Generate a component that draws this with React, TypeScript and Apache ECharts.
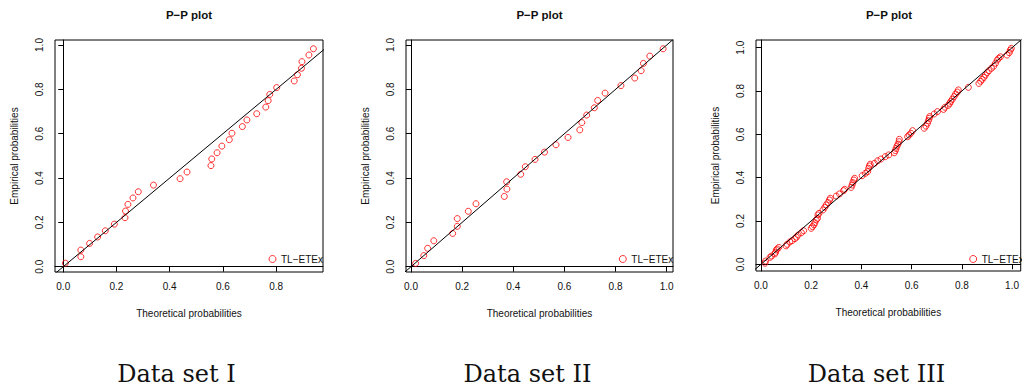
import React, { useEffect, useRef } from "react";
import * as echarts from "echarts";

// Data set I : theoretical (x) vs empirical (y) probabilities
const P1_X = [0.008, 0.066, 0.066, 0.099, 0.129, 0.158, 0.192, 0.232, 0.234, 0.243, 0.262, 0.282, 0.339, 0.439, 0.465, 0.555, 0.558, 0.578, 0.596, 0.624, 0.634, 0.673, 0.690, 0.727, 0.761, 0.770, 0.776, 0.802, 0.868, 0.880, 0.895, 0.897, 0.923, 0.940];
const P1_Y = [0.016, 0.045, 0.075, 0.105, 0.134, 0.162, 0.192, 0.221, 0.251, 0.281, 0.310, 0.338, 0.368, 0.397, 0.427, 0.456, 0.486, 0.514, 0.544, 0.573, 0.602, 0.632, 0.662, 0.690, 0.720, 0.749, 0.777, 0.808, 0.838, 0.866, 0.895, 0.925, 0.955, 0.983];

// Data set II
const P2_X = [0.018, 0.050, 0.065, 0.089, 0.163, 0.181, 0.181, 0.224, 0.254, 0.365, 0.375, 0.374, 0.429, 0.447, 0.485, 0.522, 0.567, 0.614, 0.660, 0.668, 0.687, 0.717, 0.730, 0.759, 0.821, 0.875, 0.900, 0.909, 0.934, 0.986];
const P2_Y = [0.015, 0.050, 0.083, 0.117, 0.150, 0.182, 0.217, 0.250, 0.284, 0.317, 0.350, 0.383, 0.417, 0.451, 0.484, 0.517, 0.550, 0.583, 0.617, 0.650, 0.684, 0.717, 0.750, 0.783, 0.817, 0.851, 0.884, 0.917, 0.950, 0.983];

// Data set III
const P3_X = [0.016, 0.018, 0.036, 0.042, 0.055, 0.058, 0.061, 0.065, 0.071, 0.100, 0.104, 0.115, 0.124, 0.135, 0.141, 0.148, 0.161, 0.170, 0.200, 0.205, 0.211, 0.215, 0.220, 0.225, 0.227, 0.231, 0.247, 0.254, 0.260, 0.267, 0.273, 0.276, 0.300, 0.313, 0.329, 0.333, 0.359, 0.363, 0.366, 0.370, 0.373, 0.403, 0.416, 0.425, 0.429, 0.432, 0.435, 0.452, 0.465, 0.478, 0.495, 0.509, 0.531, 0.535, 0.538, 0.542, 0.546, 0.550, 0.551, 0.584, 0.590, 0.597, 0.604, 0.650, 0.657, 0.663, 0.667, 0.670, 0.672, 0.690, 0.703, 0.727, 0.733, 0.746, 0.752, 0.756, 0.762, 0.769, 0.775, 0.782, 0.786, 0.826, 0.868, 0.875, 0.881, 0.888, 0.894, 0.901, 0.908, 0.918, 0.927, 0.934, 0.941, 0.947, 0.954, 0.980, 0.989, 0.993, 0.997];
const P3_Y = [0.005, 0.015, 0.032, 0.038, 0.048, 0.055, 0.066, 0.071, 0.078, 0.085, 0.092, 0.103, 0.109, 0.118, 0.125, 0.135, 0.146, 0.155, 0.166, 0.174, 0.182, 0.192, 0.205, 0.212, 0.228, 0.235, 0.251, 0.263, 0.274, 0.285, 0.297, 0.305, 0.315, 0.325, 0.340, 0.346, 0.355, 0.366, 0.377, 0.389, 0.397, 0.409, 0.420, 0.428, 0.443, 0.454, 0.462, 0.466, 0.478, 0.486, 0.497, 0.505, 0.515, 0.525, 0.535, 0.546, 0.555, 0.566, 0.577, 0.589, 0.597, 0.605, 0.617, 0.628, 0.638, 0.651, 0.663, 0.674, 0.682, 0.694, 0.705, 0.715, 0.725, 0.734, 0.743, 0.752, 0.762, 0.774, 0.786, 0.795, 0.805, 0.817, 0.835, 0.845, 0.854, 0.863, 0.874, 0.885, 0.894, 0.905, 0.915, 0.928, 0.943, 0.951, 0.958, 0.966, 0.977, 0.989, 0.997];

const TICKS_X1 = [0, 0.2, 0.4, 0.6, 0.8];
const TICKS_FULL = [0, 0.2, 0.4, 0.6, 0.8, 1.0];
const SERIES_NAME = "TL\u2212ETEx";
const TITLE = "P\u2212P plot";
const CAPTIONS = ["Data set I", "Data set II", "Data set III"];
const X_NAME = "Theoretical probabilities";
const Y_NAME = "Empirical probabilities";
const DIAG = [-0.2, 1.2];

const FONT = "'Liberation Sans', Arial, Helvetica, sans-serif";

const panels = [
  { xs: P1_X, ys: P1_Y, xTicks: TICKS_X1, grid: { left: 55, top: 40, width: 268, height: 232 }, xr: [-0.031, 0.976], yr: [-0.0239, 1.0226], legend: { left: 268.5, top: 254 }, titleX: 189, capX: 176.5 },
  { xs: P2_X, ys: P2_Y, xTicks: TICKS_FULL, grid: { left: 406, top: 40, width: 267, height: 232 }, xr: [-0.0196, 1.0246], yr: [-0.0239, 1.0226], legend: { left: 618.8, top: 254 }, titleX: 539.5, capX: 527.5 },
  { xs: P3_X, ys: P3_Y, xTicks: TICKS_FULL, grid: { left: 756, top: 40, width: 266, height: 231 }, xr: [-0.0198, 1.0345], yr: [-0.031, 1.0355], legend: { left: 969.2, top: 254 }, titleX: 889, capX: 876.5 },
];

export default function App() {
  const ref = useRef<HTMLDivElement>(null);
  useEffect(() => {
    if (!ref.current) return;
    const chart = echarts.init(ref.current, undefined, { renderer: "svg" });
    const fmt = (v: number) => Number(v).toFixed(1);
    const axisCommon = {
      type: "value" as const,
      splitLine: { show: false },
      axisLine: { show: true, lineStyle: { color: "#000", width: 1 } },
      nameLocation: "middle" as const,
      nameTextStyle: { fontSize: 10, color: "#111", fontFamily: FONT },
    };
    const option: any = {
      animation: false,
      backgroundColor: "#fff",
      textStyle: { fontFamily: FONT },
      title: [
        ...panels.map((p) => ({
          text: TITLE,
          left: p.titleX,
          top: 9,
          padding: 0,
          textAlign: "center",
          textStyle: { fontSize: 11.5, fontWeight: "bold", color: "#111", fontFamily: FONT },
        })),
        ...panels.map((p, i) => ({
          text: CAPTIONS[i],
          left: p.capX,
          top: 362,
          padding: 0,
          textAlign: "center",
          textStyle: { fontSize: 24, fontWeight: "normal", color: "#111", fontFamily: "'DejaVu Serif', serif" },
        })),
      ],
      legend: panels.map((p) => ({
        data: [SERIES_NAME],
        left: p.legend.left,
        top: p.legend.top,
        padding: 0,
        itemWidth: 7,
        itemHeight: 7,
        icon: "circle",
        selectedMode: false,
        itemStyle: { color: "transparent", borderColor: "#ff0000", borderWidth: 1 },
        textStyle: { fontSize: 10, color: "#111", fontFamily: FONT },
      })),
      grid: panels.map((p) => ({ ...p.grid, show: true, borderColor: "#000", borderWidth: 1, backgroundColor: "transparent" })),
      xAxis: panels.map((p, i) => ({
        ...axisCommon,
        gridIndex: i,
        min: p.xr[0],
        max: p.xr[1],
        name: X_NAME,
        nameGap: 36,
        axisTick: { show: true, length: 5, inside: false, customValues: p.xTicks, lineStyle: { color: "#000" } },
        axisLabel: { customValues: p.xTicks, formatter: fmt, fontSize: 10, color: "#111", margin: 9, fontFamily: FONT },
      })),
      yAxis: panels.map((p, i) => ({
        ...axisCommon,
        gridIndex: i,
        min: p.yr[0],
        max: p.yr[1],
        name: Y_NAME,
        nameGap: 36,
        axisTick: { show: true, length: 5, inside: false, customValues: TICKS_FULL, lineStyle: { color: "#000" } },
        axisLabel: { customValues: TICKS_FULL, formatter: fmt, fontSize: 10, color: "#111", margin: 11, rotate: 90, fontFamily: FONT },
      })),
      series: [
        ...panels.map((p, i) => ({
          name: SERIES_NAME,
          type: "scatter",
          xAxisIndex: i,
          yAxisIndex: i,
          symbol: "circle",
          symbolSize: 6,
          itemStyle: { color: "transparent", borderColor: "#ff0000", borderWidth: 1 },
          data: p.xs.map((x, k) => [x, p.ys[k]]),
          silent: true,
        })),
        ...panels.map((p, i) => ({
          name: "y = x",
          type: "line",
          xAxisIndex: i,
          yAxisIndex: i,
          symbol: "none",
          clip: true,
          silent: true,
          lineStyle: { color: "#000", width: 1 },
          data: DIAG.map((v) => [v, v]),
          z: 3,
        })),
      ],
    };
    chart.setOption(option);
    return () => chart.dispose();
  }, []);
  return <div ref={ref} style={{ position: "fixed", left: 0, top: 0, width: 1022, height: 391 }} />;
}
